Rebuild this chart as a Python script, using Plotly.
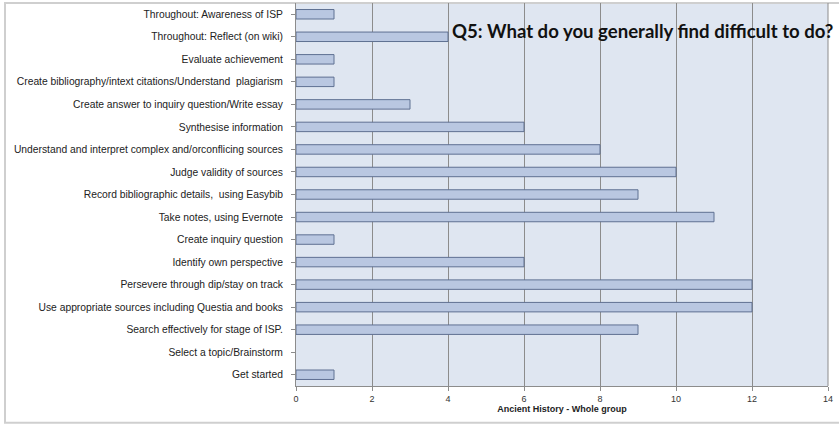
import plotly.graph_objects as go

categories = [
    "Throughout: Awareness of ISP",
    "Throughout: Reflect (on wiki)",
    "Evaluate achievement",
    "Create bibliography/intext citations/Understand  plagiarism",
    "Create answer to inquiry question/Write essay",
    "Synthesise information",
    "Understand and interpret complex and/orconflicing sources",
    "Judge validity of sources",
    "Record bibliographic details,  using Easybib",
    "Take notes, using Evernote",
    "Create inquiry question",
    "Identify own perspective",
    "Persevere through dip/stay on track",
    "Use appropriate sources including Questia and books",
    "Search effectively for stage of ISP.",
    "Select a topic/Brainstorm",
    "Get started",
]
values = [1, 4, 1, 1, 3, 6, 8, 10, 9, 11, 1, 6, 12, 12, 9, 0, 1]
x_ticks = [0, 2, 4, 6, 8, 10, 12, 14]

title_text = "Q5: What do you generally find difficult to do?"
x_title = "Ancient History - Whole group"

fig = go.Figure(go.Bar(
    x=values, y=categories, orientation="h",
    marker=dict(color="#b9c7e1",
                line=dict(color="#5f7092", width=[1 if v > 0 else 0 for v in values])),
    width=0.42,
))

fig.update_layout(
    width=839, height=426,
    margin=dict(l=296, r=11, t=3, b=40),
    paper_bgcolor="white", plot_bgcolor="#dfe6f1",
    showlegend=False,
    font=dict(family="Liberation Sans, Arial, sans-serif", size=10.3, color="#222"),
    xaxis=dict(range=[0, 14], tickvals=x_ticks, showgrid=True, gridcolor="#8c8c8c",
               gridwidth=1, zeroline=False, showline=True, linecolor="#8c8c8c",
               ticks="outside", ticklen=4, tickcolor="#8c8c8c",
               tickfont=dict(size=9, color="#333"),
               title=dict(text="<b>" + x_title + "</b>", font=dict(size=9, color="#222"), standoff=0),
               mirror=False),
    yaxis=dict(autorange="reversed", showgrid=False, showline=True, linecolor="#8c8c8c",
               ticks="outside", ticklen=4, tickcolor="#8c8c8c", tickfont=dict(size=10.3, color="#222"),
               ticklabelstandoff=6),
    annotations=[dict(text="<b>" + title_text + "</b>", xref="paper", yref="paper",
                      x=1.014, y=0.928, xanchor="right", yanchor="middle", showarrow=False,
                      font=dict(family="Lato, Liberation Sans, sans-serif", size=18.6, color="#111"))],
    shapes=[dict(type="rect", xref="paper", yref="paper", x0=-0.547, x1=1.05, y0=-0.096, y1=1.0,
                 line=dict(color="#cfcfcf", width=2), fillcolor="rgba(0,0,0,0)", layer="below"),
            dict(type="line", xref="paper", yref="paper", x0=1, x1=1, y0=0, y1=1,
                 line=dict(color="#8c8c8c", width=1))],
)

fig.write_html("out.html", config={"displayModeBar": False},
               post_script="document.body.style.margin='0';")
